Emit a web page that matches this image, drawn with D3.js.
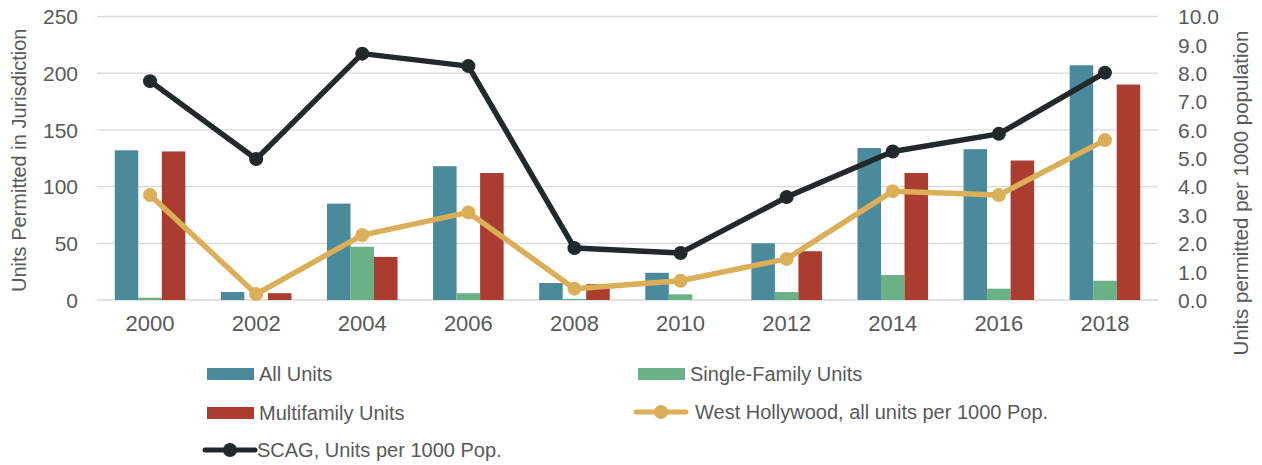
<!DOCTYPE html>
<html>
<head>
<meta charset="utf-8">
<script src="https://cdn.jsdelivr.net/npm/d3@7"></script>
<style>
  body { margin: 0; background: #fff; }
  text { font-family: "Liberation Sans", Arial, sans-serif; fill: #595959; }
</style>
</head>
<body>
<div id="chart"></div>
<script>
// data
const years = ["2000", "2002", "2004", "2006", "2008", "2010", "2012", "2014", "2016", "2018"];
const allUnits = [132, 7, 85, 118, 15, 24, 50, 134, 133, 207];
const singleFamily = [2, 0, 47, 6, 1, 5, 7, 22, 10, 17];
const multiFamily = [131, 6, 38, 112, 14, 0, 43, 112, 123, 190];
const weho = [3.70, 0.21, 2.29, 3.09, 0.40, 0.68, 1.45, 3.84, 3.70, 5.64];
const scag = [7.72, 4.97, 8.69, 8.25, 1.83, 1.66, 3.63, 5.24, 5.86, 8.02];
const leftTicks = [0, 50, 100, 150, 200, 250];
const rightTicks = [0, 1, 2, 3, 4, 5, 6, 7, 8, 9, 10];

const barSeries = [
  { name: "All Units", values: allUnits, color: "#4a8a9b" },
  { name: "Single-Family Units", values: singleFamily, color: "#6ab187" },
  { name: "Multifamily Units", values: multiFamily, color: "#aa3c30" }
];
const lineSeries = [
  { name: "West Hollywood, all units per 1000 Pop.", values: weho, color: "#dbae58" },
  { name: "SCAG, Units per 1000 Pop.", values: scag, color: "#23282b" }
];

const width = 1262, height = 465;
const plot = { left: 97, right: 1158, top: 16.5, bottom: 300 };

const svg = d3.select("#chart").append("svg")
  .attr("width", width)
  .attr("height", height);

// scales
const x = d3.scaleBand().domain(years)
  .range([plot.left, plot.right])
  .paddingInner(0.335)
  .paddingOuter(0.1675);
const xSub = d3.scaleBand().domain(barSeries.map(d => d.name))
  .range([0, x.bandwidth()]);
const yLeft = d3.scaleLinear().domain([0, 250]).range([plot.bottom, plot.top]);
const yRight = d3.scaleLinear().domain([0, 10]).range([plot.bottom, plot.top]);

// gridlines
svg.append("g")
  .selectAll("line")
  .data(leftTicks)
  .join("line")
  .attr("x1", plot.left)
  .attr("x2", plot.right)
  .attr("y1", d => yLeft(d))
  .attr("y2", d => yLeft(d))
  .attr("stroke", "#d9d9d9")
  .attr("stroke-width", 1.3);

// left axis
const leftAxis = svg.append("g")
  .attr("transform", `translate(${plot.left - 19},0)`)
  .call(d3.axisLeft(yLeft).tickValues(leftTicks).tickSize(0).tickPadding(0));
leftAxis.select(".domain").remove();
leftAxis.selectAll("text").style("font-size", "21px").attr("dy", "0.35em");

// right axis
const rightAxis = svg.append("g")
  .attr("transform", `translate(${plot.right + 20},0)`)
  .call(d3.axisRight(yRight).tickValues(rightTicks).tickFormat(d3.format(".1f")).tickSize(0).tickPadding(0));
rightAxis.select(".domain").remove();
rightAxis.selectAll("text").style("font-size", "21px").attr("dy", "0.35em");

// x axis
const xAxis = svg.append("g")
  .attr("transform", `translate(0,${plot.bottom + 15})`)
  .call(d3.axisBottom(x).tickSize(0).tickPadding(0));
xAxis.select(".domain").remove();
xAxis.selectAll("text").style("font-size", "22px").attr("dy", "0.72em");

// axis titles
svg.append("text")
  .attr("transform", `translate(26,${(plot.top + plot.bottom) / 2 + 2}) rotate(-90)`)
  .attr("text-anchor", "middle")
  .style("font-size", "20px")
  .text("Units Permitted in Jurisdiction");
svg.append("text")
  .attr("transform", `translate(1248,193) rotate(-90)`)
  .attr("text-anchor", "middle")
  .style("font-size", "20.5px")
  .text("Units permitted per 1000 population");

// bars
const groups = svg.append("g")
  .selectAll("g")
  .data(barSeries)
  .join("g")
  .attr("fill", d => d.color);
groups.selectAll("rect")
  .data(s => s.values.map((v, i) => ({ name: s.name, year: years[i], v: v })))
  .join("rect")
  .attr("x", d => x(d.year) + xSub(d.name))
  .attr("y", d => yLeft(d.v))
  .attr("width", xSub.bandwidth())
  .attr("height", d => plot.bottom - yLeft(d.v));

// lines
const line = d3.line()
  .x((d, i) => x(years[i]) + x.bandwidth() / 2)
  .y(d => yRight(d));
lineSeries.forEach(s => {
  svg.append("path")
    .datum(s.values)
    .attr("fill", "none")
    .attr("stroke", s.color)
    .attr("stroke-width", 5.5)
    .attr("stroke-linejoin", "round")
    .attr("d", line);
  svg.append("g")
    .selectAll("circle")
    .data(s.values)
    .join("circle")
    .attr("cx", (d, i) => x(years[i]) + x.bandwidth() / 2)
    .attr("cy", d => yRight(d))
    .attr("r", 7)
    .attr("fill", s.color);
});

// legend
const legendItems = [
  { name: barSeries[0].name, color: barSeries[0].color, type: "bar", x: 207, y: 374 },
  { name: barSeries[1].name, color: barSeries[1].color, type: "bar", x: 638, y: 374 },
  { name: barSeries[2].name, color: barSeries[2].color, type: "bar", x: 207, y: 413 },
  { name: lineSeries[0].name, color: lineSeries[0].color, type: "line", x: 636, y: 412 },
  { name: lineSeries[1].name, color: lineSeries[1].color, type: "line", x: 205, y: 450 }
];
const legend = svg.append("g")
  .selectAll("g")
  .data(legendItems)
  .join("g")
  .attr("transform", d => `translate(${d.x},${d.y})`);
legend.filter(d => d.type === "bar")
  .append("rect")
  .attr("x", 0).attr("y", -6)
  .attr("width", 47).attr("height", 12)
  .attr("fill", d => d.color);
legend.filter(d => d.type === "line")
  .append("line")
  .attr("x1", 0).attr("x2", 50)
  .attr("stroke", d => d.color)
  .attr("stroke-width", 5)
  .attr("stroke-linecap", "round");
legend.filter(d => d.type === "line")
  .append("circle")
  .attr("cx", 25).attr("r", 7)
  .attr("fill", d => d.color);
legend.append("text")
  .attr("x", d => d.type === "bar" ? 52 : (d.x > 600 ? 59 : 52))
  .attr("dy", "0.35em")
  .style("font-size", "20px")
  .text(d => d.name);
</script>
</body>
</html>
